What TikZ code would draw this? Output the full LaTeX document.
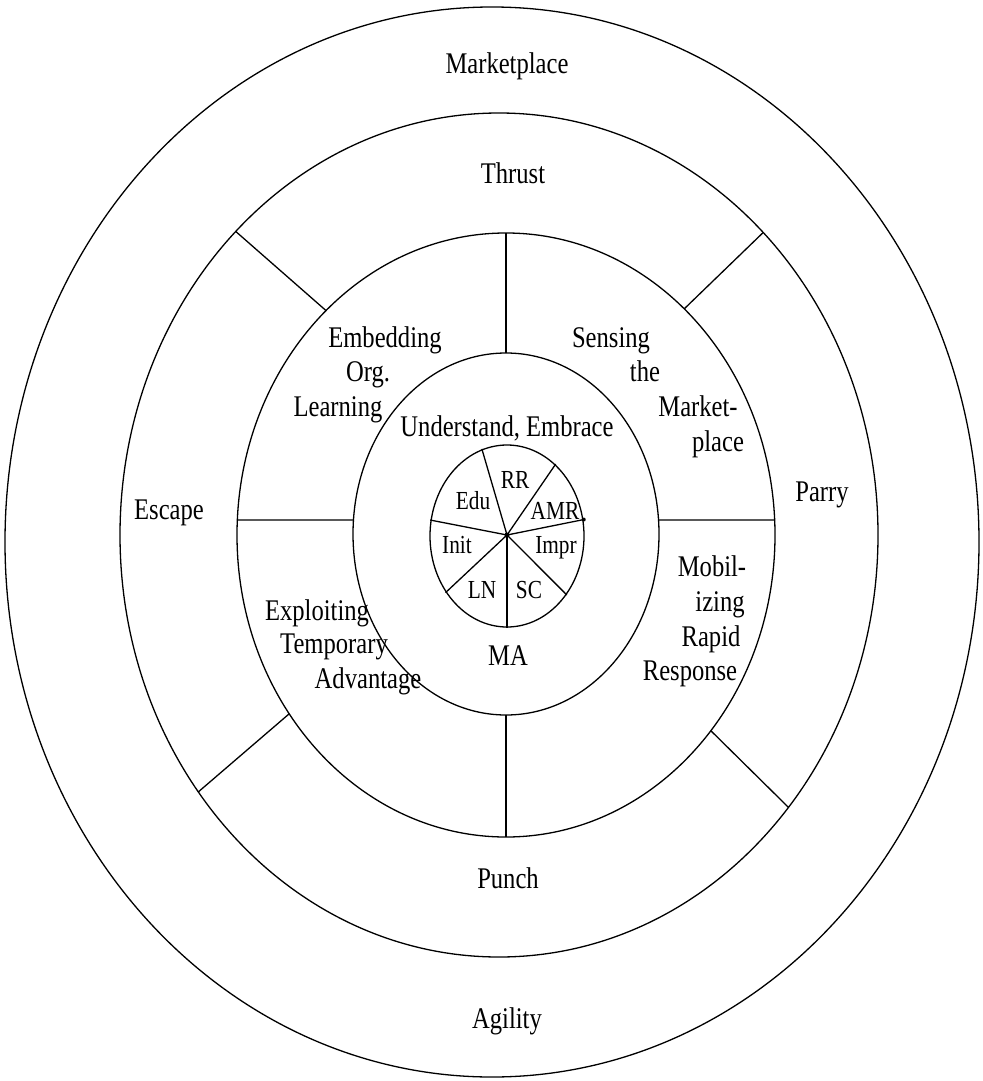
\documentclass[tikz,border=0pt]{standalone}
\usepackage{fontspec}
\setmainfont{Liberation Serif}[FakeStretch=0.82]
\usetikzlibrary{calc}
\begin{document}
\begin{tikzpicture}[x=1pt,y=-1pt,line width=1.3pt,
  lbl/.style={font=\fontsize{30}{36}\selectfont,inner sep=0pt,anchor=base},
  sml/.style={font=\fontsize{26}{30}\selectfont,inner sep=0pt,anchor=base}]
\useasboundingbox[fill=white] (0,0) rectangle (982,1081);
% centres
\coordinate (c1) at (492,542);
\coordinate (c2) at (499,535);
\coordinate (c3) at (506,535);
\coordinate (c4) at (506,534);
\coordinate (c5) at (507,536);
% rings
\draw (c1) ellipse [x radius=487pt,y radius=535pt];
\draw (c2) ellipse [x radius=379pt,y radius=422pt];
\draw (c3) ellipse [x radius=269pt,y radius=302pt];
\draw (c4) ellipse [x radius=153pt,y radius=181pt];
\draw (c5) ellipse [x radius=77pt,y radius=91pt];
% dividers between ring 2 and ring 3
\coordinate (d1o) at ($(c2)+(134:379pt and 422pt)$);
\coordinate (d1i) at ($(c3)+(132:269pt and 302pt)$);
\coordinate (d2o) at ($(c2)+(45.8:379pt and 422pt)$);
\coordinate (d2i) at ($(c3)+(48.5:269pt and 302pt)$);
\coordinate (d3o) at ($(c2)+(217.5:379pt and 422pt)$);
\coordinate (d3i) at ($(c3)+(216.3:269pt and 302pt)$);
\coordinate (d4o) at ($(c2)+(-40.2:379pt and 422pt)$);
\coordinate (d4i) at ($(c3)+(-40.4:269pt and 302pt)$);
\draw (d1o) -- (d1i);
\draw (d2o) -- (d2i);
\draw (d3o) -- (d3i);
\draw (d4o) -- (d4i);
% dividers between ring 3 and ring 4
\coordinate (t3) at ($(c3)+(90:269pt and 302pt)$);
\coordinate (t4) at ($(c4)+(90:153pt and 181pt)$);
\coordinate (b3) at ($(c3)+(270:269pt and 302pt)$);
\coordinate (b4) at ($(c4)+(270:153pt and 181pt)$);
\coordinate (l3) at ($(c3)+(177.15:269pt and 302pt)$);
\coordinate (l4) at ($(c4)+(175.56:153pt and 181pt)$);
\coordinate (r3) at ($(c3)+(2.85:269pt and 302pt)$);
\coordinate (r4) at ($(c4)+(4.44:153pt and 181pt)$);
\draw (t3) -- (t4);
\draw (b4) -- (b3);
\draw (l3) -- (l4);
\draw (r4) -- (r3);
% hub spokes
\coordinate (hub) at (507,535);
\foreach \a [count=\i] in {108.8,51.4,10.3,-39.9,-90,218,170}{
  \coordinate (s\i) at ($(c5)+(\a:78pt and 92pt)$);
  \draw (hub) -- (s\i);
}
\fill (hub) circle (2.5pt);
\fill (s3) circle (2pt);
% outer labels
\node[lbl] (mk) at (507,74) {Marketplace};
\node[lbl] (th) at (513,183) {Thrust};
\node[lbl] (es) at (169,519) {Escape};
\node[lbl] (pa) at (822,501) {Parry};
\node[lbl] (pu) at (508,888) {Punch};
\node[lbl] (ag) at (507,1028) {Agility};
% middle ring labels
\node[lbl] (e1) at (385,347) {Embedding};
\node[lbl] (e2) at (368,381) {Org.};
\node[lbl] (e3) at (338,416) {Learning};
\node[lbl] (n1) at (611,347) {Sensing};
\node[lbl] (n2) at (645,381) {the};
\node[lbl] (n3) at (698,416) {Market-};
\node[lbl] (n4) at (718,451) {place};
\node[lbl] (x1) at (317,620) {Exploiting};
\node[lbl] (x2) at (334,653) {Temporary};
\node[lbl] (x3) at (368,688) {Advantage};
\node[lbl] (m1) at (712,576) {Mobil-};
\node[lbl] (m2) at (720,611) {izing};
\node[lbl] (m3) at (711,646) {Rapid};
\node[lbl] (m4) at (690,680) {Response};
% inner ring labels
\node[lbl] (ue) at (507,436) {Understand, Embrace};
\node[lbl] (ma) at (508,665) {MA};
% hub labels
\node[sml] (edu) at (473,509) {Edu};
\node[sml] (rr) at (515,488) {RR};
\node[sml] (amr) at (555,519) {AMR};
\node[sml] (imp) at (556,553) {Impr};
\node[sml] (ini) at (457,553) {Init};
\node[sml] (ln) at (482,598) {LN};
\node[sml] (sc) at (529,598) {SC};
\end{tikzpicture}
\end{document}
